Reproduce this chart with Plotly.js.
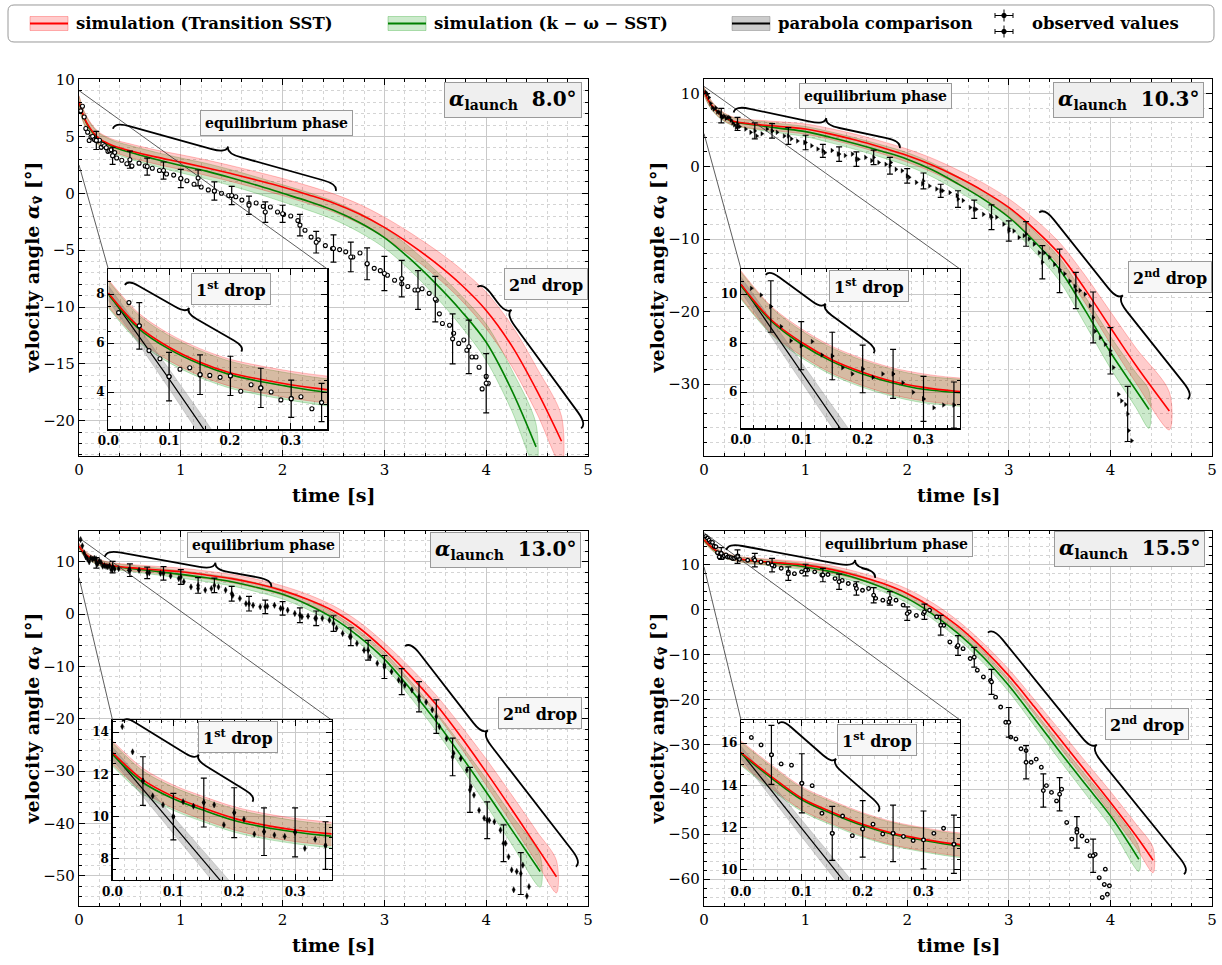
<!DOCTYPE html>
<html><head><meta charset="utf-8">
<script src="https://cdn.plot.ly/plotly-3.0.1.min.js"></script>
<style>body{margin:0;background:#fff}#chart{width:1222px;height:965px}</style>
</head><body><div id="chart"></div>
<script>
// ================= DATA =================
// ---- Panel 1: alpha_launch 8.0° ----
const p1_obsT = [0.017,0.034,0.051,0.067,0.085,0.100,0.118,0.134,0.151,0.167,0.184,0.201,0.218,0.235,0.251,0.268,0.284,0.301,0.317,0.335,0.351,
 0.37,0.42,0.47,0.52,0.59,0.65,0.72,0.79,0.86,0.93,1.0,1.06,1.13,1.2,1.27,1.33,1.4,1.47,1.54,1.6,1.67,1.74,1.81,1.88,1.95,2.01,2.08,2.15,2.22,2.28,
 2.35,2.42,2.49,2.56,2.62,2.69,2.76,2.83,2.9,2.96,3.03,3.1,3.17,3.23,3.3,3.37,3.44,3.51,3.54,3.57,3.64,3.68,3.73,3.78,3.81,3.86,3.9,3.93,3.96,4.0,4.02];
const p1_obsV = [7.25,7.66,6.71,5.70,5.37,4.64,4.94,5.00,4.72,4.69,4.61,4.67,4.04,4.31,4.18,4.01,3.69,3.74,3.82,3.33,3.58,
 3.1,2.9,2.6,2.4,2.65,2.4,2.2,2.0,1.7,1.6,1.3,1.1,0.8,0.55,0.3,0.2,0.0,-0.2,-0.3,-0.6,-0.9,-0.85,-1.15,-1.2,-1.65,-1.85,-2.0,-2.4,-3.25,-3.85,
 -4.1,-4.6,-4.85,-4.95,-5.15,-5.6,-5.25,-6.2,-6.6,-6.8,-7.2,-7.65,-7.95,-8.2,-8.5,-8.4,-8.8,-9.4,-10.6,-11.45,-11.6,-12.3,-13.2,-12.9,-13.8,-14.4,-14.4,-15.3,-17.2,-16.1,-16.7];
const p1_errT = [0.17,0.33,0.5,0.67,0.83,1.0,1.17,1.33,1.5,1.67,1.83,2.0,2.17,2.33,2.5,2.67,2.83,3.0,3.17,3.33,3.5,3.67,3.83,4.0];
const p1_errV = [4.65,3.3,2.95,2.35,2.0,1.3,1.35,0.2,-0.2,-1.05,-1.65,-1.8,-2.8,-4.3,-4.85,-5.6,-6.2,-7.05,-7.5,-8.5,-9.3,-12.8,-13.5,-16.7];
const p1_errE = [0.8,0.75,0.75,0.75,0.75,0.8,0.7,0.8,0.8,0.8,0.9,0.75,0.95,0.95,1.2,1.3,1.4,1.5,1.6,1.7,2.0,2.2,2.35,2.6];
const p1_insErrT = [0.051,0.100,0.151,0.201,0.251,0.301,0.351];
const p1_insErrV = [6.71,4.64,4.72,4.67,4.18,3.74,3.58];
const p1_insErrE = [0.95,0.99,0.81,0.8,0.8,0.76,0.78];
const p1_redT = [0,0.05,0.1,0.15,0.2,0.25,0.3,0.35,0.5,0.75,1.0,1.25,1.5,1.75,2.0,2.25,2.5,2.75,3.0,3.25,3.5,3.75,4.0,4.25,4.5,4.74];
const p1_redV = [8.05,6.68,5.84,5.24,4.80,4.53,4.31,4.14,3.75,3.2,2.74,2.25,1.72,1.15,0.55,-0.12,-0.85,-1.8,-3.0,-4.45,-6.1,-8.0,-10.3,-13.4,-17.4,-21.8];
const p1_redW = [0.55,0.55,0.55,0.55,0.55,0.55,0.55,0.55,0.6,0.62,0.65,0.68,0.7,0.72,0.75,0.78,0.8,0.85,0.9,1.0,1.15,1.35,1.6,1.8,2.0,2.2];
const p1_grnT = [0,0.05,0.1,0.15,0.2,0.25,0.3,0.35,0.5,0.75,1.0,1.25,1.5,1.75,2.0,2.25,2.5,2.75,3.0,3.25,3.5,3.75,4.0,4.25,4.49];
const p1_grnV = [8.0,6.6,5.76,5.16,4.72,4.44,4.22,4.03,3.6,3.0,2.45,1.95,1.35,0.7,0.0,-0.7,-1.5,-2.55,-3.9,-5.75,-7.9,-10.3,-13.1,-17.3,-22.3];
const p1_grnW = [0.55,0.55,0.55,0.55,0.55,0.55,0.55,0.55,0.6,0.62,0.65,0.68,0.7,0.72,0.75,0.78,0.8,0.85,0.9,1.0,1.15,1.35,1.6,1.8,2.0];
const p1_parT = [0,0.05,0.1,0.15,0.2];
const p1_parV = [8.05,6.32,4.55,2.75,0.9];
const p1_parW = [0.3,0.35,0.4,0.45,0.5];

// ---- Panel 2: alpha_launch 10.3° ----
const p2_obsT = [0.017,0.033,0.049,0.066,0.082,0.099,0.117,0.133,0.15,0.167,0.183,0.2,0.217,0.233,0.25,0.266,0.283,0.3,0.317,0.333,0.35,
 0.41,0.46,0.52,0.57,0.62,0.67,0.72,0.79,0.86,0.92,0.99,1.06,1.12,1.19,1.26,1.32,1.39,1.46,1.52,1.59,1.65,1.72,1.79,1.84,1.89,1.95,2.02,2.09,2.15,2.22,
 2.29,2.35,2.42,2.49,2.55,2.62,2.68,2.75,2.82,2.88,2.95,3.0,3.05,3.1,3.15,3.2,3.25,3.3,3.35,3.4,3.45,3.5,3.55,3.6,3.65,3.7,3.75,3.8,3.85,3.9,
 3.95,4.0,4.03,4.08,4.11,4.15,4.18,4.21];
const p2_obsV = [10.24,9.97,9.5,8.68,8.1,7.9,8.07,7.52,7.48,7.0,6.75,6.95,6.61,6.75,6.75,6.39,6.0,5.73,5.37,5.48,5.48,
 5.15,4.7,4.2,4.5,5.15,4.9,4.7,4.2,3.8,3.5,3.3,2.85,2.4,1.9,2.2,1.7,1.5,1.7,1.0,1.25,0.8,0.55,0.3,0.55,-0.4,-0.6,-1.5,-2.2,-2.4,-2.7,
 -3.1,-3.35,-3.6,-4.0,-4.7,-5.65,-5.9,-6.6,-6.8,-7.0,-7.95,-8.6,-8.9,-9.8,-9.55,-10.0,-10.7,-11.9,-11.9,-12.5,-13.5,-14.2,-14.8,-15.8,-16.5,-17.1,-17.6,-19.2,-22.7,-23.6,
 -24.5,-25.9,-27.7,-31.4,-32.3,-32.8,-36.4,-37.8];
const p2_errT = [0.17,0.33,0.5,0.67,0.83,1.0,1.17,1.33,1.5,1.67,1.83,2.0,2.16,2.33,2.5,2.66,2.83,3.0,3.17,3.33,3.5,3.66,3.83,4.0,4.17];
const p2_errV = [7.0,5.85,4.9,4.9,4.2,3.3,2.15,1.7,1.0,1.25,0.1,-1.3,-2.0,-3.35,-4.5,-5.9,-7.0,-8.9,-9.3,-13.2,-14.4,-17.1,-20.8,-25.4,-34.1];
const p2_errE = [1.0,0.9,1.1,1.0,1.15,1.0,0.9,1.0,1.0,1.0,1.15,1.0,1.1,0.9,1.15,1.25,1.7,1.4,1.7,2.3,3.0,2.5,3.5,3.2,3.8];
const p2_insErrT = [0.049,0.099,0.15,0.2,0.25,0.3,0.35];
const p2_insErrV = [9.5,7.9,7.48,6.95,6.75,5.73,5.48];
const p2_insErrE = [1.05,0.98,0.97,0.97,1.0,0.92,0.94];
const p2_redT = [0,0.05,0.1,0.15,0.2,0.25,0.3,0.35,0.5,0.75,1.0,1.25,1.5,1.75,2.0,2.25,2.5,2.75,3.0,3.25,3.5,3.75,4.0,4.25,4.58];
const p2_redV = [10.4,8.95,8.03,7.32,6.82,6.44,6.2,6.05,5.8,5.5,5.15,4.45,3.6,2.6,1.5,0.15,-1.5,-3.4,-5.65,-8.6,-12.1,-16.9,-22.2,-27.4,-33.7];
const p2_redW = [0.55,0.55,0.55,0.55,0.55,0.55,0.55,0.55,0.6,0.65,0.7,0.75,0.8,0.85,0.9,0.95,1.0,1.1,1.2,1.4,1.6,1.9,2.2,2.4,2.6];
const p2_grnT = [0,0.05,0.1,0.15,0.2,0.25,0.3,0.35,0.5,0.75,1.0,1.25,1.5,1.75,2.0,2.25,2.5,2.75,3.0,3.25,3.5,3.75,4.0,4.25,4.38];
const p2_grnV = [10.35,8.9,7.95,7.25,6.75,6.38,6.12,6.0,5.7,5.25,4.8,4.0,3.1,2.1,1.0,-0.5,-2.4,-4.5,-7.0,-10.3,-14.2,-19.8,-25.6,-30.8,-33.5];
const p2_grnW = [0.55,0.55,0.55,0.55,0.55,0.55,0.55,0.55,0.6,0.65,0.7,0.75,0.8,0.85,0.9,0.95,1.0,1.1,1.2,1.4,1.6,1.9,2.2,2.4,2.6];
const p2_parT = [0,0.05,0.1,0.15,0.2];
const p2_parV = [10.4,8.6,6.8,5.0,3.2];
const p2_parW = [0.3,0.35,0.4,0.45,0.5];

// ---- Panel 3: alpha_launch 13.0° ----
const p3_obsT = [0.016,0.033,0.05,0.066,0.083,0.1,0.116,0.133,0.15,0.167,0.183,0.2,0.216,0.233,0.249,0.266,0.283,0.3,0.316,0.333,0.35,
 0.39,0.49,0.59,0.69,0.8,0.9,0.98,1.03,1.1,1.17,1.24,1.3,1.37,1.44,1.51,1.58,1.64,1.71,1.78,1.85,1.92,1.98,2.05,2.12,2.19,2.25,2.32,2.39,2.46,2.53,
 2.59,2.66,2.73,2.8,2.86,2.93,3.0,3.07,3.14,3.2,3.27,3.34,3.41,3.47,3.54,3.61,3.68,3.75,3.81,3.85,3.88,3.93,3.98,4.03,4.08,4.14,4.19,4.22,4.25,4.27,
 4.3,4.36,4.40,4.42];
const p3_obsV = [14.27,13.07,11.69,10.98,10.56,10.0,10.71,10.5,10.67,10.56,9.61,10.19,9.88,9.17,9.29,9.13,9.06,9.26,8.5,8.93,8.63,
 8.7,8.4,8.4,7.9,7.8,7.3,6.8,6.2,5.2,4.9,4.6,4.9,5.2,4.6,3.6,3.0,2.0,1.7,1.4,1.5,1.7,1.1,0.76,0.13,-0.5,-0.4,-0.8,-0.8,-1.15,-2.7,
 -3.7,-4.3,-5.6,-6.9,-8.2,-9.4,-9.7,-11.0,-12.6,-13.6,-14.5,-16.4,-16.8,-18.3,-21.5,-23.8,-26.6,-27.6,-29.8,-33.0,-34.6,-37.5,-39.0,-39.4,-39.7,-41.3,-43.8,-46.4,-48.9,-52.7,
 -49.2,-48.0,-53.9,-52.1];
const p3_errT = [0.17,0.33,0.5,0.67,0.83,1.0,1.17,1.33,1.5,1.67,1.83,2.0,2.17,2.33,2.5,2.67,2.84,3.0,3.17,3.34,3.51,3.67,3.84,4.01,4.17,4.34];
const p3_errV = [9.8,9.0,8.4,7.9,7.8,7.1,5.5,5.5,3.9,2.0,1.4,1.1,-0.2,-0.8,-1.8,-4.3,-6.9,-10.1,-12.9,-15.8,-19.6,-27.3,-33.6,-39.4,-43.8,-49.6];
const p3_errE = [1.0,1.1,1.2,1.1,1.3,1.4,1.5,1.4,1.4,1.4,1.3,1.3,1.4,1.4,1.5,1.7,1.9,2.2,2.5,2.9,3.2,3.6,4.3,3.5,3.5,4.0];
const p3_insErrT = [0.05,0.1,0.15,0.2,0.249,0.3,0.35];
const p3_insErrV = [11.69,10.0,10.67,10.19,9.29,9.26,8.63];
const p3_insErrE = [1.15,1.1,1.16,1.18,1.13,1.16,1.13];
const p3_redT = [0,0.05,0.1,0.15,0.2,0.25,0.3,0.35,0.5,0.75,1.0,1.25,1.5,1.75,2.0,2.25,2.5,2.75,3.0,3.25,3.5,3.75,4.0,4.25,4.5,4.69];
const p3_redV = [13.04,11.74,10.95,10.4,9.92,9.6,9.37,9.21,8.9,8.5,8.1,7.5,6.8,5.8,4.5,2.8,0.6,-2.6,-6.8,-11.7,-17.1,-23.4,-30.2,-37.3,-44.6,-50.2];
const p3_redW = [0.55,0.55,0.55,0.55,0.55,0.55,0.55,0.55,0.6,0.65,0.7,0.75,0.8,0.85,0.9,0.95,1.0,1.15,1.3,1.55,1.8,2.1,2.5,2.75,3.0,3.1];
const p3_grnT = [0,0.05,0.1,0.15,0.2,0.25,0.3,0.35,0.5,0.75,1.0,1.25,1.5,1.75,2.0,2.25,2.5,2.75,3.0,3.25,3.5,3.75,4.0,4.25,4.53];
const p3_grnV = [12.95,11.62,10.85,10.3,9.82,9.5,9.27,9.1,8.75,8.2,7.6,6.95,6.2,5.1,3.8,1.8,-0.8,-4.3,-8.6,-14.2,-20.3,-27.0,-34.0,-41.2,-49.2];
const p3_grnW = [0.55,0.55,0.55,0.55,0.55,0.55,0.55,0.55,0.6,0.65,0.7,0.75,0.8,0.85,0.9,0.95,1.0,1.15,1.3,1.55,1.8,2.1,2.5,2.75,3.0];
const p3_parT = [0,0.05,0.1,0.15,0.2];
const p3_parV = [13.0,11.3,9.6,7.9,6.2];
const p3_parW = [0.3,0.35,0.4,0.45,0.5];

// ---- Panel 4: alpha_launch 15.5° ----
const p4_obsT = [0.017,0.033,0.05,0.066,0.083,0.1,0.117,0.133,0.15,0.167,0.183,0.2,0.217,0.233,0.25,0.267,0.283,0.3,0.317,0.333,0.35,
 0.43,0.49,0.56,0.63,0.69,0.76,0.83,0.89,0.96,1.02,1.09,1.16,1.22,1.29,1.36,1.42,1.49,1.56,1.62,1.69,1.76,1.82,1.89,1.96,2.02,2.09,2.16,2.22,2.29,2.36,
 2.42,2.49,2.55,2.62,2.69,2.75,2.82,2.87,2.92,2.97,3.02,3.07,3.12,3.17,3.22,3.27,3.32,3.37,3.42,3.47,3.52,3.57,3.62,3.67,3.72,3.77,3.8,3.85,3.89,3.92,
 3.94,3.95,3.97,3.99];
const p4_obsV = [16.27,15.92,15.45,15.02,14.96,14.1,13.99,12.68,11.73,12.55,11.62,11.94,12.16,11.7,11.73,11.58,11.39,11.42,11.73,11.97,11.21,
 11.0,11.4,10.6,10.3,9.7,9.2,8.4,8.0,8.4,8.8,8.4,7.7,7.8,6.9,6.5,5.8,5.4,4.3,4.7,2.5,2.1,1.7,2.1,1.0,-0.5,-1.3,-0.9,-0.15,-1.6,-3.5,
 -7.2,-8.3,-8.7,-10.9,-13.5,-15.0,-15.8,-19.5,-21.7,-25.1,-28.4,-28.8,-31.0,-31.4,-34.0,-33.3,-35.1,-39.2,-40.7,-42.6,-40.0,-47.4,-51.1,-48.9,-50.4,-51.5,-54.8,-54.5,-59.7,-64.1,
 -61.2,-57.8,-63.4,-61.5];
const p4_errT = [0.17,0.33,0.5,0.67,0.83,1.0,1.17,1.33,1.5,1.67,1.83,2.0,2.17,2.33,2.5,2.66,2.83,3.0,3.17,3.34,3.5,3.67,3.83];
const p4_errV = [12.5,11.8,11.0,9.9,8.0,8.8,7.7,6.2,4.7,3.2,2.5,-0.9,-0.5,-3.5,-8.0,-10.6,-16.1,-25.1,-34.0,-40.3,-41.1,-49.6,-54.8];
const p4_errE = [1.3,1.5,1.5,1.5,1.5,1.3,1.5,1.7,1.5,1.7,1.5,1.5,1.7,2.2,2.2,2.2,2.8,3.3,3.7,3.7,3.7,3.5,3.7];
const p4_insErrT = [0.05,0.1,0.15,0.2,0.25,0.3,0.35];
const p4_insErrV = [15.45,14.1,11.73,11.94,11.73,11.42,11.21];
const p4_insErrE = [1.4,1.4,1.28,1.34,1.34,1.37,1.38];
const p4_redT = [0,0.05,0.1,0.15,0.2,0.25,0.3,0.35,0.5,0.75,1.0,1.25,1.5,1.75,2.0,2.25,2.5,2.75,3.0,3.25,3.5,3.75,4.0,4.25,4.42];
const p4_redV = [15.56,14.42,13.39,12.73,12.16,11.73,11.45,11.23,10.85,10.4,9.9,8.95,7.6,5.9,3.6,0.4,-3.7,-8.8,-14.7,-21.6,-28.7,-35.8,-42.9,-50.3,-55.8];
const p4_redW = [0.55,0.55,0.55,0.55,0.55,0.55,0.55,0.55,0.6,0.65,0.7,0.8,0.85,0.9,1.0,1.1,1.2,1.3,1.4,1.6,1.9,2.1,2.4,2.6,2.8];
const p4_grnT = [0,0.05,0.1,0.15,0.2,0.25,0.3,0.35,0.5,0.75,1.0,1.25,1.5,1.75,2.0,2.25,2.5,2.75,3.0,3.25,3.5,3.75,4.0,4.28];
const p4_grnV = [15.5,14.35,13.32,12.66,12.1,11.68,11.4,11.17,10.75,10.2,9.5,8.45,7.0,5.0,2.5,-1.0,-5.3,-10.6,-16.9,-24.2,-31.6,-38.8,-45.9,-55.6];
const p4_grnW = [0.55,0.55,0.55,0.55,0.55,0.55,0.55,0.55,0.6,0.65,0.7,0.8,0.85,0.9,1.0,1.1,1.2,1.3,1.4,1.6,1.9,2.1,2.4,2.7];
const p4_parT = [0,0.05,0.1,0.15,0.2];
const p4_parV = [15.56,13.76,11.96,10.16,8.36];
const p4_parW = [0.3,0.35,0.4,0.45,0.5];

const launchAngles = ['8.0°','10.3°','13.0°','15.5°'];
const legendLabels = ['simulation (Transition SST)','simulation (k − ω − SST)','parabola comparison','observed values'];

// ================= LAYOUT / STYLE =================
const W = 1222, H = 965;
const FF = 'DejaVu Serif';
const RED = '#ff0000', GRN = '#008000';

const DATA = [
 {obsT:p1_obsT,obsV:p1_obsV,errT:p1_errT,errV:p1_errV,errE:p1_errE,iErrT:p1_insErrT,iErrV:p1_insErrV,iErrE:p1_insErrE,
  redT:p1_redT,redV:p1_redV,redW:p1_redW,grnT:p1_grnT,grnV:p1_grnV,grnW:p1_grnW,parT:p1_parT,parV:p1_parV,parW:p1_parW},
 {obsT:p2_obsT,obsV:p2_obsV,errT:p2_errT,errV:p2_errV,errE:p2_errE,iErrT:p2_insErrT,iErrV:p2_insErrV,iErrE:p2_insErrE,
  redT:p2_redT,redV:p2_redV,redW:p2_redW,grnT:p2_grnT,grnV:p2_grnV,grnW:p2_grnW,parT:p2_parT,parV:p2_parV,parW:p2_parW},
 {obsT:p3_obsT,obsV:p3_obsV,errT:p3_errT,errV:p3_errV,errE:p3_errE,iErrT:p3_insErrT,iErrV:p3_insErrV,iErrE:p3_insErrE,
  redT:p3_redT,redV:p3_redV,redW:p3_redW,grnT:p3_grnT,grnV:p3_grnV,grnW:p3_grnW,parT:p3_parT,parV:p3_parV,parW:p3_parW},
 {obsT:p4_obsT,obsV:p4_obsV,errT:p4_errT,errV:p4_errV,errE:p4_errE,iErrT:p4_insErrT,iErrV:p4_insErrV,iErrE:p4_insErrE,
  redT:p4_redT,redV:p4_redV,redW:p4_redW,grnT:p4_grnT,grnV:p4_grnV,grnW:p4_grnW,parT:p4_parT,parV:p4_parV,parW:p4_parW}
];

// panel geometry (pixels) and annotation placement
const GEO = [
 {main:{x0:79,x1:588,y0:79,y1:456}, yr:[-23.1,10.05], dy:5, my:1,
  ins:{x0:108.3,x1:327.3,y0:269,y1:429.3}, ixr:[0,0.3604], iyr:[2.49,9.03],
  marker:{symbol:'circle',size:4,color:'#fff',line:{color:'#000',width:1.1}},
  title:[4.26,8.24], eqLab:[1.94,6.2], dropLab:[4.586,-8.0], firstLab:[0.202,8.22],
  eqBrace:[[0.333,5.67],[2.522,0.20],0.5], dropBrace:[[3.914,-8.23],[4.932,-20.67],0.22], firstBrace:[[0.0274,8.38],[0.219,5.66],0.5]},
 {main:{x0:704,x1:1212,y0:79,y1:456}, yr:[-39.9,12.05], dy:10, my:2,
  ins:{x0:741,x1:960,y0:269,y1:428.3}, ixr:[0,0.36], iyr:[4.53,11.03],
  marker:{symbol:'triangle-right',size:4,color:'#000',line:{color:'#000',width:0.4}},
  title:[4.18,9.15], eqLab:[1.69,9.7], dropLab:[4.585,-15.26], firstLab:[0.211,10.33],
  eqBrace:[[0.292,7.44],[1.927,2.53],0.54], dropBrace:[[3.299,-6.34],[4.761,-32.08],0.49], firstBrace:[[0.0406,10.79],[0.218,7.59],0.49]},
 {main:{x0:79,x1:588,y0:531,y1:906}, yr:[-55.8,15.9], dy:10, my:2,
  ins:{x0:112.5,x1:331.6,y0:720,y1:880}, ixr:[0,0.36], iyr:[7.0,14.58],
  marker:{symbol:'diamond-tall',size:4.5,color:'#000',line:{color:'#000',width:0.4}},
  title:[4.19,12.2], eqLab:[1.817,13.25], dropLab:[4.525,-18.98], firstLab:[0.207,13.76],
  eqBrace:[[0.254,10.96],[1.888,5.22],0.65], dropBrace:[[3.203,-6.11],[4.881,-48.28],0.42], firstBrace:[[0.0159,14.51],[0.23,10.71],0.54]},
 {main:{x0:704,x1:1212,y0:531,y1:906}, yr:[-66.0,17.5], dy:10, my:2,
  ins:{x0:741,x1:960,y0:720,y1:880}, ixr:[0,0.36], iyr:[9.52,17.1],
  marker:{symbol:'circle',size:3.6,color:'#fff',line:{color:'#000',width:1.3}},
  title:[4.185,13.6], eqLab:[1.896,14.66], dropLab:[4.358,-25.45], firstLab:[0.223,16.13],
  eqBrace:[[0.22,13.24],[1.683,7.07],0.85], dropBrace:[[2.794,-5.13],[4.724,-58.93],0.5], firstBrace:[[0.0611,16.92],[0.2256,12.76],0.5]}
];

const traces = [], shapes = [], annotations = [];
const layout = {width:W, height:H, margin:{l:0,r:0,t:0,b:0}, paper_bgcolor:'#fff', plot_bgcolor:'#fff',
  showlegend:false, shapes, annotations, font:{family:FF,color:'#000'}};

const P = (px,py) => [px/W, 1-py/H];
function d2px(box, xr, yr, t, v){
  return [box.x0 + (t-xr[0])/(xr[1]-xr[0])*(box.x1-box.x0), box.y1 - (v-yr[0])/(yr[1]-yr[0])*(box.y1-box.y0)];
}
function bandPoly(t, v, w){
  return {x: t.concat(t.slice().reverse()),
          y: v.map((a,i)=>a+w[i]).concat(v.map((a,i)=>a-w[i]).reverse())};
}
function axisCfg(box, horiz, range, dtick, minor, anchor, tickfont, extra){
  const dom = horiz ? [box.x0/W, box.x1/W] : [1-box.y1/H, 1-box.y0/H];
  return Object.assign({domain:dom, range, dtick, tick0:0, anchor, ticks:'inside', ticklen:6, tickwidth:1, tickcolor:'#000',
    mirror:'allticks', showline:true, linecolor:'#000', linewidth:1.2, showgrid:true, gridcolor:'#c9c9c9', gridwidth:1,
    zeroline:false, tickfont, fixedrange:true, layer:'above traces',
    minor:{dtick:minor, tick0:0, ticks:'inside', ticklen:3, tickcolor:'#000', showgrid:true, gridcolor:'#d4d4d4', griddash:'dot', gridwidth:1}}, extra||{});
}
function bracePath(A, B, f, h, q){
  const dx=B[0]-A[0], dy=B[1]-A[1], L=Math.hypot(dx,dy);
  const u=[dx/L,dy/L], n=[u[1],-u[0]];
  const Q=(b,a,c)=>[b[0]+u[0]*a+n[0]*c, b[1]+u[1]*a+n[1]*c];
  const M=Q(A,f*L,0);
  const s=p=>{const r=P(p[0],p[1]); return r[0].toFixed(5)+','+r[1].toFixed(5);};
  return 'M'+s(A)+' Q'+s(Q(A,0,h))+' '+s(Q(A,q,h))+' L'+s(Q(M,-q,h))+' Q'+s(Q(M,0,h))+' '+s(Q(M,0,2*h))+
         ' Q'+s(Q(M,0,h))+' '+s(Q(M,q,h))+' L'+s(Q(B,-q,h))+' Q'+s(Q(B,0,h))+' '+s(B);
}
function labelBox(text, xref, yref, x, y, size, bg){
  return {text:'<b>'+text+'</b>', xref, yref, x, y, showarrow:false, xanchor:'center', yanchor:'middle',
    font:{family:FF,size,color:'#000'}, bgcolor:bg||'#f7f7f7', bordercolor:'#9a9a9a', borderwidth:1, borderpad:4};
}

DATA.forEach((d,k)=>{
  const g = GEO[k];
  const xm = k===0?'x':'x'+(k+1), ym = k===0?'y':'y'+(k+1);
  const xi = 'x'+(k+5), yi = 'y'+(k+5);
  const mainFont = {family:FF,size:15,color:'#000'};
  const insFont = {family:FF,size:12,color:'#000',weight:'bold'};
  layout['xaxis'+(k===0?'':k+1)] = axisCfg(g.main,true,[0,5],1,0.2,ym,mainFont);
  layout['yaxis'+(k===0?'':k+1)] = axisCfg(g.main,false,g.yr,g.dy,g.my,xm,mainFont);
  layout['xaxis'+(k+5)] = axisCfg(g.ins,true,g.ixr,0.1,0.02,yi,insFont,{tickformat:'.1f'});
  layout['yaxis'+(k+5)] = axisCfg(g.ins,false,g.iyr,2,0.5,xi,insFont);

  [[xm,ym,false],[xi,yi,true]].forEach(([xa,ya,isIns])=>{
    const gb = bandPoly(d.grnT,d.grnV,d.grnW), rb = bandPoly(d.redT,d.redV,d.redW);
    traces.push({type:'scatter',mode:'lines',x:gb.x,y:gb.y,xaxis:xa,yaxis:ya,fill:'toself',
      fillcolor:'rgba(0,150,0,0.2)',line:{color:'rgba(0,150,0,0.3)',width:0.8,shape:'spline',smoothing:0.9},hoverinfo:'skip'});
    traces.push({type:'scatter',mode:'lines',x:rb.x,y:rb.y,xaxis:xa,yaxis:ya,fill:'toself',
      fillcolor:'rgba(255,0,0,0.2)',line:{color:'rgba(255,0,0,0.3)',width:0.8,shape:'spline',smoothing:0.9},hoverinfo:'skip'});
    if(isIns){
      const pb = bandPoly(d.parT,d.parV,d.parW);
      traces.push({type:'scatter',mode:'lines',x:pb.x,y:pb.y,xaxis:xa,yaxis:ya,fill:'toself',
        fillcolor:'rgba(110,110,110,0.3)',line:{color:'rgba(110,110,110,0.4)',width:0.6},hoverinfo:'skip'});
      traces.push({type:'scatter',mode:'lines',x:d.parT,y:d.parV,xaxis:xa,yaxis:ya,line:{color:'#000',width:1.2}});
    }
    traces.push({type:'scatter',mode:'lines',x:d.grnT,y:d.grnV,xaxis:xa,yaxis:ya,line:{color:GRN,width:1.6,shape:'spline',smoothing:1}});
    traces.push({type:'scatter',mode:'lines',x:d.redT,y:d.redV,xaxis:xa,yaxis:ya,line:{color:RED,width:1.6,shape:'spline',smoothing:1}});
    traces.push({type:'scatter',mode:'markers',x:d.obsT,y:d.obsV,xaxis:xa,yaxis:ya,marker:g.marker});
    traces.push({type:'scatter',mode:'markers',x:isIns?d.iErrT:d.errT,y:isIns?d.iErrV:d.errV,xaxis:xa,yaxis:ya,marker:g.marker,
      error_y:{type:'data',array:isIns?d.iErrE:d.errE,visible:true,color:'#000',thickness:1.2,width:3}});
  });

  // connector lines from main-axis zoom region to inset
  const c1 = d2px(g.main,[0,5],g.yr,0,g.iyr[1]), c2 = d2px(g.main,[0,5],g.yr,0,g.iyr[0]);
  [[c1,[g.ins.x1,g.ins.y0]],[c2,[g.ins.x0,g.ins.y0]]].forEach(([a,b])=>{
    const pa=P(a[0],a[1]), pb=P(b[0],b[1]);
    shapes.push({type:'line',xref:'paper',yref:'paper',x0:pa[0],y0:pa[1],x1:pb[0],y1:pb[1],line:{color:'#333',width:0.8},layer:'above'});
  });
  // braces
  const mb = (pt)=>d2px(g.main,[0,5],g.yr,pt[0],pt[1]);
  const ib = (pt)=>d2px(g.ins,g.ixr,g.iyr,pt[0],pt[1]);
  shapes.push({type:'path',xref:'paper',yref:'paper',path:bracePath(mb(g.eqBrace[0]),mb(g.eqBrace[1]),g.eqBrace[2],7,15),line:{color:'#000',width:1.8},layer:'above'});
  shapes.push({type:'path',xref:'paper',yref:'paper',path:bracePath(mb(g.dropBrace[0]),mb(g.dropBrace[1]),g.dropBrace[2],7,15),line:{color:'#000',width:1.8},layer:'above'});
  shapes.push({type:'path',xref:'paper',yref:'paper',path:bracePath(ib(g.firstBrace[0]),ib(g.firstBrace[1]),g.firstBrace[2],6,12),line:{color:'#000',width:1.8},layer:'above'});

  // labels
  annotations.push(labelBox('<i>α</i><sub>launch</sub>  '+launchAngles[k], xm, ym, g.title[0], g.title[1], 20, '#efefef'));
  annotations.push(labelBox('equilibrium phase', xm, ym, g.eqLab[0], g.eqLab[1], 14));
  annotations.push(labelBox('2<sup>nd</sup> drop', xm, ym, g.dropLab[0], g.dropLab[1], 16));
  annotations.push(labelBox('1<sup>st</sup> drop', xi, yi, g.firstLab[0], g.firstLab[1], 16));

  // axis titles
  const cx = (g.main.x0+g.main.x1)/2, cy = (g.main.y0+g.main.y1)/2;
  const xt = P(cx, g.main.y1+39);
  annotations.push({text:'<b>time [s]</b>',xref:'paper',yref:'paper',x:xt[0],y:xt[1],showarrow:false,xanchor:'center',yanchor:'middle',font:{family:FF,size:19}});
  const yt = P(g.main.x0-46, cy);
  annotations.push({text:'<b>velocity angle <i>α</i><sub><span style="font-family:\'DejaVu Sans\'">v\u20d7</span></sub> [°]</b>',xref:'paper',yref:'paper',x:yt[0],y:yt[1],textangle:-90,showarrow:false,xanchor:'center',yanchor:'middle',font:{family:FF,size:19}});
});

// ---- custom legend ----
(function(){
  const x0=8,x1=1214,y0=5,y1=42,r=6;
  const s=(a,b)=>{const p=P(a,b);return p[0].toFixed(5)+','+p[1].toFixed(5);};
  shapes.push({type:'path',xref:'paper',yref:'paper',layer:'above',line:{color:'#999',width:1},fillcolor:'rgba(255,255,255,0.9)',
    path:'M'+s(x0+r,y0)+' L'+s(x1-r,y0)+' Q'+s(x1,y0)+' '+s(x1,y0+r)+' L'+s(x1,y1-r)+' Q'+s(x1,y1)+' '+s(x1-r,y1)+
         ' L'+s(x0+r,y1)+' Q'+s(x0,y1)+' '+s(x0,y1-r)+' L'+s(x0,y0+r)+' Q'+s(x0,y0)+' '+s(x0+r,y0)+' Z'});
  const ent = [[30,'rgba(255,0,0,0.2)','rgba(255,0,0,0.35)',RED],[388,'rgba(0,150,0,0.2)','rgba(0,150,0,0.35)',GRN],[732,'rgba(110,110,110,0.35)','rgba(110,110,110,0.5)','#000']];
  ent.forEach(([ex,fc,lc,mc],i)=>{
    const a=P(ex,16.5), b=P(ex+38,30.5), m1=P(ex,23.5), m2=P(ex+38,23.5);
    shapes.push({type:'rect',xref:'paper',yref:'paper',layer:'above',x0:a[0],y0:a[1],x1:b[0],y1:b[1],fillcolor:fc,line:{color:lc,width:0.8}});
    shapes.push({type:'line',xref:'paper',yref:'paper',layer:'above',x0:m1[0],y0:m1[1],x1:m2[0],y1:m2[1],line:{color:mc,width:2}});
    const t=P(ex+44,23.5);
    annotations.push({text:'<b>'+legendLabels[i]+'</b>',xref:'paper',yref:'paper',x:t[0],y:t[1],xanchor:'left',yanchor:'middle',showarrow:false,font:{family:FF,size:16.5}});
  });
  // observed values glyph: two points with x/y error bars
  [[1004,15.5],[1004,31.5]].forEach(([cx,cy])=>{
    const h1=P(cx-9,cy),h2=P(cx+9,cy),v1=P(cx,cy-6),v2=P(cx,cy+6);
    shapes.push({type:'line',xref:'paper',yref:'paper',layer:'above',x0:h1[0],y0:h1[1],x1:h2[0],y1:h2[1],line:{color:'#000',width:1}});
    shapes.push({type:'line',xref:'paper',yref:'paper',layer:'above',x0:v1[0],y0:v1[1],x1:v2[0],y1:v2[1],line:{color:'#000',width:1}});
    [[cx-9],[cx+9]].forEach(([ex])=>{const c1=P(ex,cy-2.5),c2=P(ex,cy+2.5);
      shapes.push({type:'line',xref:'paper',yref:'paper',layer:'above',x0:c1[0],y0:c1[1],x1:c2[0],y1:c2[1],line:{color:'#000',width:1}});});
    const a=P(cx-2.2,cy-2.2),b=P(cx+2.2,cy+2.2);
    shapes.push({type:'circle',xref:'paper',yref:'paper',layer:'above',x0:a[0],y0:a[1],x1:b[0],y1:b[1],fillcolor:'#000',line:{color:'#000',width:1}});
  });
  const t=P(1030,23.5);
  annotations.push({text:'<b>'+legendLabels[3]+'</b>',xref:'paper',yref:'paper',x:t[0],y:t[1],xanchor:'left',yanchor:'middle',showarrow:false,font:{family:FF,size:16.5}});
})();

Plotly.newPlot('chart', traces, layout, {displayModeBar:false, staticPlot:true});
</script></body></html>
